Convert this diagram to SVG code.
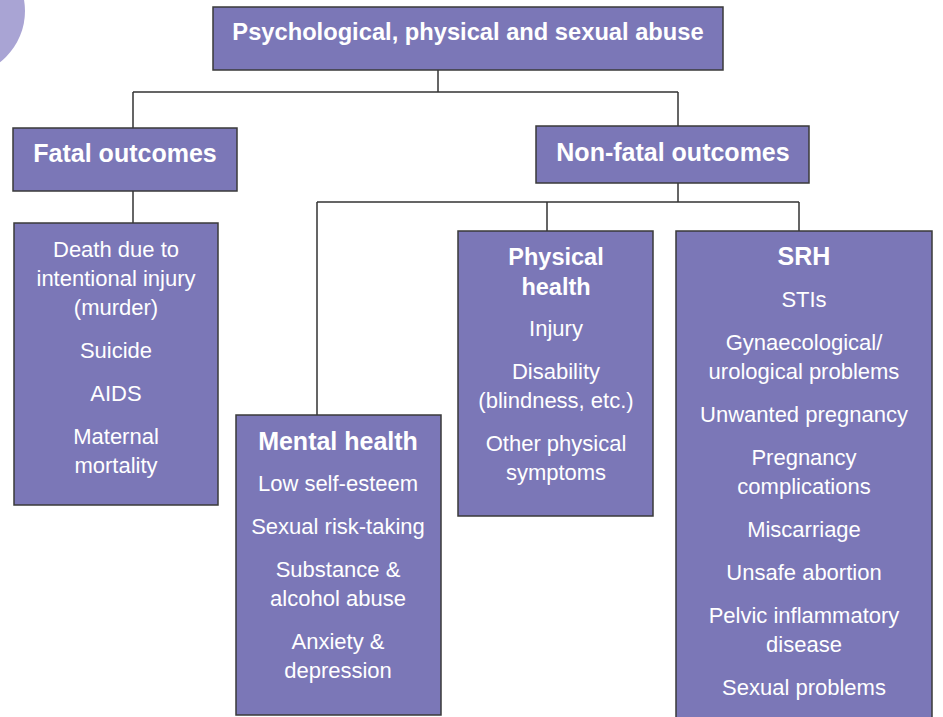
<svg xmlns="http://www.w3.org/2000/svg" width="943" height="717" viewBox="0 0 943 717">
<style>
.box{fill:#7b77b7;stroke:#3a3a3a;stroke-width:1.5}
.t{font-family:"Liberation Sans",Arial,sans-serif;font-size:22px;fill:#ffffff;text-anchor:middle}
.b{font-weight:bold;font-size:25px}
.c{fill:none;stroke:#333333;stroke-width:1.5}
</style>
<rect width="943" height="717" fill="#ffffff"/>
<circle cx="-40" cy="11" r="65" fill="#a9a4d4"/>
<g id="connectors">
<path class="c" d="M438,70 V92 M133,92 H678 M133,92 V128 M678,92 V126"/>
<path class="c" d="M133,191 V223"/>
<path class="c" d="M678,183 V202 M317,202 H799 M317,202 V415 M547,202 V231 M799,202 V231"/>
</g>
<g id="abuse">
<rect class="box" x="213" y="7" width="510" height="63"/>
<text class="t b" x="468" y="40" style="font-size:23.7px">Psychological, physical and sexual abuse</text>
</g>
<g id="fatal">
<rect class="box" x="13" y="128" width="224" height="63"/>
<text class="t b" x="125" y="162">Fatal outcomes</text>
</g>
<g id="fatal-list">
<rect class="box" x="14" y="223" width="204" height="282"/>
<text class="t" x="116" y="257">Death due to</text>
<text class="t" x="116" y="286">intentional injury</text>
<text class="t" x="116" y="315">(murder)</text>
<text class="t" x="116" y="358">Suicide</text>
<text class="t" x="116" y="401">AIDS</text>
<text class="t" x="116" y="444">Maternal</text>
<text class="t" x="116" y="473">mortality</text>
</g>
<g id="nonfatal">
<rect class="box" x="536" y="126" width="273" height="57"/>
<text class="t b" x="673" y="161">Non-fatal outcomes</text>
</g>
<g id="mental">
<rect class="box" x="236" y="415" width="205" height="300"/>
<text class="t b" x="338" y="450">Mental health</text>
<text class="t" x="338" y="491">Low self-esteem</text>
<text class="t" x="338" y="534">Sexual risk-taking</text>
<text class="t" x="338" y="577">Substance &amp;</text>
<text class="t" x="338" y="606">alcohol abuse</text>
<text class="t" x="338" y="649">Anxiety &amp;</text>
<text class="t" x="338" y="678">depression</text>
</g>
<g id="physical">
<rect class="box" x="458" y="231" width="195" height="285"/>
<text class="t b" x="556" y="265" style="font-size:23.5px">Physical</text>
<text class="t b" x="556" y="295" style="font-size:23.5px">health</text>
<text class="t" x="556" y="336">Injury</text>
<text class="t" x="556" y="379">Disability</text>
<text class="t" x="556" y="408">(blindness, etc.)</text>
<text class="t" x="556" y="451">Other physical</text>
<text class="t" x="556" y="480">symptoms</text>
</g>
<g id="srh">
<rect class="box" x="676" y="231" width="256" height="490"/>
<text class="t b" x="804" y="265">SRH</text>
<text class="t" x="804" y="307">STIs</text>
<text class="t" x="804" y="350">Gynaecological/</text>
<text class="t" x="804" y="379">urological problems</text>
<text class="t" x="804" y="422">Unwanted pregnancy</text>
<text class="t" x="804" y="465">Pregnancy</text>
<text class="t" x="804" y="494">complications</text>
<text class="t" x="804" y="537">Miscarriage</text>
<text class="t" x="804" y="580">Unsafe abortion</text>
<text class="t" x="804" y="623">Pelvic inflammatory</text>
<text class="t" x="804" y="652">disease</text>
<text class="t" x="804" y="695">Sexual problems</text>
</g>
</svg>
